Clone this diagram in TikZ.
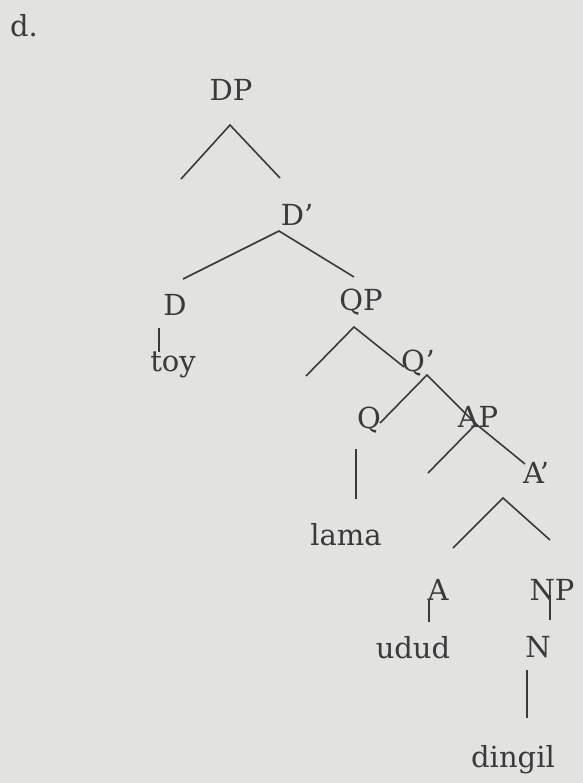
\documentclass[tikz,border=0pt]{standalone}
\usepackage{fontspec}
\setmainfont{DejaVu Serif}
\usepackage{tikz}
\usepackage{xcolor}
\usetikzlibrary{calc}

\definecolor{paper}{HTML}{E2E3E0}
\definecolor{ink}{HTML}{3A3A3A}

\begin{document}
\begin{tikzpicture}[x=0.5pt,y=-0.5pt]
                % Define the style for the categories and the branches
                \tikzstyle{cat}=[text=ink, anchor=base, inner sep=0pt, font=\fontsize{14.5}{17}\selectfont];
                \tikzstyle{branch}=[draw=ink, line width=0.8pt];

                % Paper background
                \fill[paper] (0,0) rectangle (583,783);
                \useasboundingbox (0,0) rectangle (583,783);

                % Place the categories and the words
                \node[cat] (ex) at (24,36) {d.};
                \node[cat] (DP) at (231,100) {DP};
                \node[cat] (Dbar) at (297,225) {D'};
                \node[cat] (D) at (175,315) {D};
                \node[cat] (toy) at (173,371) {toy};
                \node[cat] (QP) at (361,310) {QP};
                \node[cat] (Qbar) at (418,371) {Q'};
                \node[cat] (Q) at (369,428) {Q};
                \node[cat] (lama) at (346,545) {lama};
                \node[cat] (AP) at (478,427) {AP};
                \node[cat] (Abar) at (536,483) {A'};
                \node[cat] (A) at (438,600) {A};
                \node[cat] (NP) at (552,600) {NP};
                \node[cat] (udud) at (413,658) {udud};
                \node[cat] (N) at (538,657) {N};
                \node[cat] (dingil) at (513,767) {dingil};

                % Define the coordinates for the branch ends
                \coordinate (dpTop) at (230,125);
                \coordinate (dpL) at (181,179);
                \coordinate (dpR) at (280,178);
                \coordinate (dbarTop) at (279,231);
                \coordinate (dbarL) at (183,279);
                \coordinate (dbarR) at (354,277);
                \coordinate (dHead) at (159,328);
                \coordinate (toyTop) at (159,352);
                \coordinate (qpTop) at (354,327);
                \coordinate (qpL) at (306,376);
                \coordinate (qpR) at (404,367);
                \coordinate (qbarTop) at (427,375);
                \coordinate (qbarL) at (380,423);
                \coordinate (apTop) at (476,424);
                \coordinate (apL) at (428,473);
                \coordinate (apR) at (525,464);
                \coordinate (qHead) at (356,449);
                \coordinate (lamaTop) at (356,499);
                \coordinate (abarTop) at (503,498);
                \coordinate (abarL) at (453,548);
                \coordinate (abarR) at (550,540);
                \coordinate (aHead) at (429,599);
                \coordinate (ududTop) at (429,622);
                \coordinate (npHead) at (550,595);
                \coordinate (nTop) at (550,620);
                \coordinate (nHead) at (527,670);
                \coordinate (dingilTop) at (527,718);

                % Draw the branches
                \draw[branch] (dpL) -- (dpTop) -- (dpR);
                \draw[branch] (dbarL) -- (dbarTop) -- (dbarR);
                \draw[branch] (dHead) -- (toyTop);
                \draw[branch] (qpL) -- (qpTop) -- (qpR);
                \draw[branch] (qbarL) -- (qbarTop) -- (apTop);
                \draw[branch] (apL) -- (apTop) -- (apR);
                \draw[branch] (qHead) -- (lamaTop);
                \draw[branch] (abarL) -- (abarTop) -- (abarR);
                \draw[branch] (aHead) -- (ududTop);
                \draw[branch] (npHead) -- (nTop);
                \draw[branch] (nHead) -- (dingilTop);
            \end{tikzpicture}
\end{document}
